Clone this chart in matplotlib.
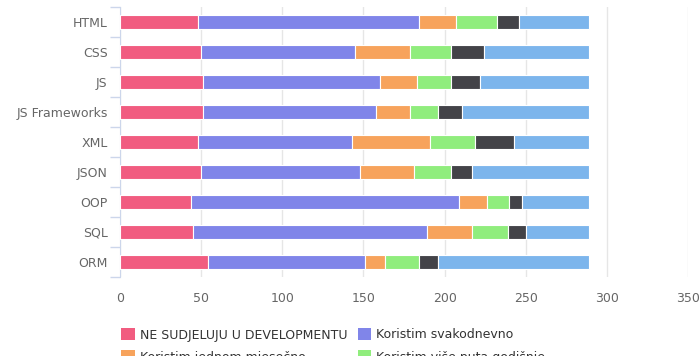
import matplotlib.pyplot as plt
from matplotlib.patches import Patch
import numpy as np

# ---------------- DATA ----------------
categories = ["HTML", "CSS", "JS", "JS Frameworks", "XML", "JSON", "OOP", "SQL", "ORM"]
series_names = [
    "NE SUDJELUJU U DEVELOPMENTU",
    "Koristim svakodnevno",
    "Koristim jednom mjesečno",
    "Koristim više puta godišnje",
    "Koristim jednom godišnje",
    "Ne koristim",
]
ne_sudjeluju = [48, 50, 51, 51, 48, 50, 44, 45, 54]
svakodnevno = [136, 95, 109, 107, 95, 98, 165, 144, 97]
mjesecno = [23, 34, 23, 21, 48, 33, 17, 28, 12]
godisnje_vise = [25, 25, 21, 17, 28, 23, 14, 22, 21]
godisnje_jednom = [14, 20, 18, 15, 24, 13, 8, 11, 12]
ne_koristim = [43, 65, 67, 78, 46, 72, 41, 39, 93]

colors = ["#f15c80", "#8085e9", "#f7a35c", "#90ed7d", "#434348", "#7cb5ec"]

# ---------------- CHART ----------------
fig = plt.figure(figsize=(7, 3.56), dpi=100)
ax = fig.add_axes([120 / 700, 1 - 277 / 356, 568 / 700, 270 / 356])

series = [ne_sudjeluju, svakodnevno, mjesecno, godisnje_vise, godisnje_jednom, ne_koristim]
y = np.arange(len(categories))
left = np.zeros(len(categories))
for name, vals, c in zip(series_names, series, colors):
    ax.barh(y, vals, left=left, height=0.48, color=c, edgecolor="white",
            linewidth=0.8, label=name, zorder=3)
    left += np.array(vals)

ax.set_xlim(0, 350)
ax.set_ylim(len(categories) - 0.5, -0.5)
ax.set_xticks(range(0, 351, 50))
ax.grid(axis="x", color="#e6e6e6", linewidth=1, zorder=0)
ax.set_yticks(y)
ax.set_yticklabels(categories)
ax.set_yticks(np.arange(-0.5, len(categories), 1), minor=True)

ax.tick_params(axis="y", which="major", length=0, pad=9, labelsize=9, labelcolor="#666666")
ax.tick_params(axis="y", which="minor", length=7, color="#ccd6eb", width=1)
ax.tick_params(axis="x", length=0, pad=11, labelsize=9, labelcolor="#666666")

for s in ["top", "right", "bottom"]:
    ax.spines[s].set_visible(False)
ax.spines["left"].set_color("#ccd6eb")

# legend row-wise order for 2 columns (bottom row is cut off by the figure edge)
order = [0, 2, 4, 1, 3, 5]
handles = [Patch(facecolor=colors[i], edgecolor="none") for i in order]
labels = [series_names[i] for i in order]
fig.legend(handles, labels, ncol=2, loc="upper left",
           bbox_to_anchor=(110 / 700, 1 - 317 / 356), frameon=False,
           fontsize=9, labelcolor="#333333", handlelength=1.1, handleheight=1.1,
           handletextpad=0.4, columnspacing=0.8, labelspacing=0.7)

plt.savefig("out.png", dpi=100)
plt.close()
